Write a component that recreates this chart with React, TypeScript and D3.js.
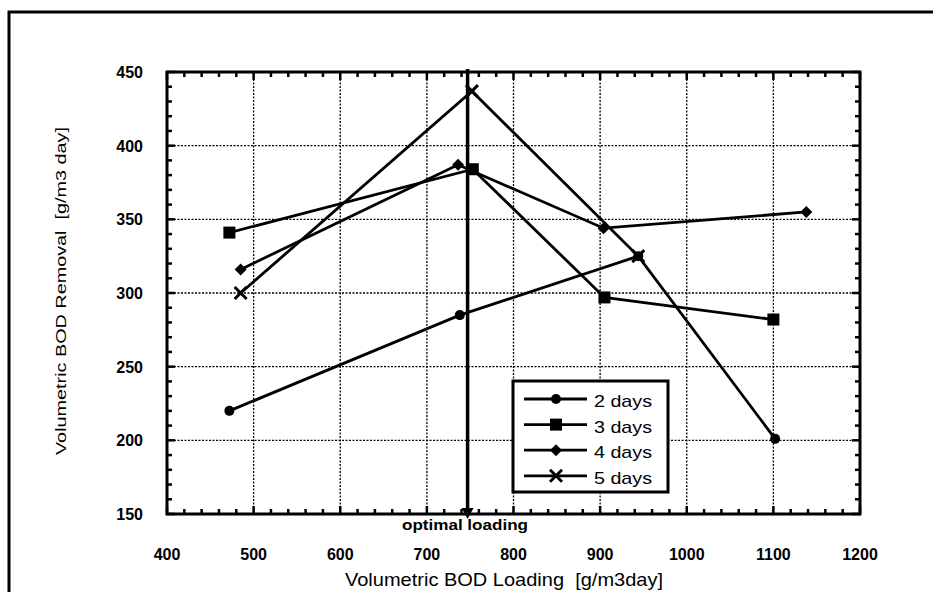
import React, { useEffect } from "react";
import * as d3 from "d3";

const xTickValues = [400, 500, 600, 700, 800, 900, 1000, 1100, 1200];
const yTickValues = [150, 200, 250, 300, 350, 400, 450];
const seriesNames = ["2 days", "3 days", "4 days", "5 days"];
const markers = ["circle", "square", "diamond", "cross"];
const days2X = [472, 738, 944, 1102];
const days2Y = [220, 285, 325, 201];
const days3X = [472, 753, 905, 1100];
const days3Y = [341, 384, 297, 282];
const days4X = [485, 736, 904, 1138];
const days4Y = [316, 387, 344, 355];
const days5X = [485, 752, 944];
const days5Y = [300, 437, 325];
const optimalLoading = 747;
const xTitle = "Volumetric BOD Loading  [g/m3day]";
const yTitle = "Volumetric BOD Removal  [g/m3 day]";
const optimalLabel = "optimal loading";

const W = 933, H = 592;
const L = 167, R = 860, T = 72, B = 514;
const FONT = "'Liberation Sans', Arial, Helvetica, sans-serif";

function Marker({ type, x, y }: { type: string; x: number; y: number }) {
  if (type === "circle") return <circle cx={x} cy={y} r={5} fill="#000" />;
  if (type === "square") return <rect x={x - 6} y={y - 6} width={12} height={12} fill="#000" />;
  if (type === "diamond")
    return <path d={`M${x},${y - 6}L${x + 6},${y}L${x},${y + 6}L${x - 6},${y}Z`} fill="#000" />;
  return (
    <path d={`M${x - 6},${y - 6}L${x + 6},${y + 6}M${x - 6},${y + 6}L${x + 6},${y - 6}`} stroke="#000" strokeWidth={3} />
  );
}

export default function App() {
  useEffect(() => {
    document.body.style.margin = "0";
    document.documentElement.style.overflow = "hidden";
    document.body.style.overflow = "hidden";
  }, []);
  const x = d3.scaleLinear().domain([400, 1200]).range([L, R]);
  const y = d3.scaleLinear().domain([150, 450]).range([B, T]);
  const series = [
    { xs: days2X, ys: days2Y },
    { xs: days3X, ys: days3Y },
    { xs: days4X, ys: days4Y },
    { xs: days5X, ys: days5Y },
  ];
  const line = d3.line<[number, number]>().x((d) => x(d[0])).y((d) => y(d[1]));
  const xMinor = d3.range(400, 1201, 20);
  const yMinor = d3.range(150, 451, 10);
  const lx = 513, ly = 381, lw = 155, lh = 111;
  const ox = x(optimalLoading);
  return (
    <svg
      width={W}
      height={H}
      style={{ position: "absolute", left: 0, top: 0, display: "block", overflow: "hidden", background: "#fff" }}
      fontFamily={FONT}
    >
      <rect x={0} y={0} width={W} height={H} fill="#fff" />
      <path d={`M9,${H}L9,12L${W},12`} fill="none" stroke="#000" strokeWidth={3} />
      {/* grid */}
      {xTickValues.slice(1, -1).map((v) => (
        <line key={"gx" + v} x1={x(v)} x2={x(v)} y1={T} y2={B} stroke="#000" strokeWidth={1.3} strokeDasharray="2,1.5" />
      ))}
      {yTickValues.slice(1, -1).map((v) => (
        <line key={"gy" + v} x1={L} x2={R} y1={y(v)} y2={y(v)} stroke="#000" strokeWidth={1.3} strokeDasharray="2,1.5" />
      ))}
      {/* minor ticks */}
      {xMinor.map((v) => {
        const len = v % 100 === 0 ? 8 : 5;
        return (
          <g key={"xm" + v}>
            <line x1={x(v)} x2={x(v)} y1={B} y2={B - len} stroke="#000" strokeWidth={2.5} />
            <line x1={x(v)} x2={x(v)} y1={T} y2={T + len} stroke="#000" strokeWidth={2.5} />
          </g>
        );
      })}
      {yMinor.map((v) => {
        const len = v % 50 === 0 ? 8 : 5;
        return (
          <g key={"ym" + v}>
            <line x1={L} x2={L + len} y1={y(v)} y2={y(v)} stroke="#000" strokeWidth={2.5} />
            <line x1={R} x2={R - len} y1={y(v)} y2={y(v)} stroke="#000" strokeWidth={2.5} />
          </g>
        );
      })}
      <rect x={L} y={T} width={R - L} height={B - T} fill="none" stroke="#000" strokeWidth={3} />
      {/* tick labels */}
      {xTickValues.map((v) => (
        <text key={"xl" + v} x={x(v)} y={560} textAnchor="middle" fontSize={16} fontWeight="bold">
          {v}
        </text>
      ))}
      {yTickValues.map((v) => (
        <text key={"yl" + v} x={143} y={y(v) + 6} textAnchor="end" fontSize={16} fontWeight="bold">
          {v}
        </text>
      ))}
      <text
        x={504}
        y={586}
        textAnchor="middle"
        fontSize={19}
        textLength={318}
        lengthAdjust="spacingAndGlyphs"
        style={{ whiteSpace: "pre" }}
      >
        {xTitle}
      </text>
      <text
        transform={`translate(66,${291}) rotate(-90)`}
        textAnchor="middle"
        fontSize={15}
        textLength={328}
        lengthAdjust="spacingAndGlyphs"
        style={{ whiteSpace: "pre" }}
      >
        {yTitle}
      </text>
      {/* optimal loading */}
      <line x1={ox} x2={ox} y1={T - 3} y2={B} stroke="#000" strokeWidth={3.5} />
      <path d={`M${ox - 6},${B - 6}L${ox + 6},${B - 6}L${ox},${B + 5}Z`} fill="#000" />
      <text x={465} y={530} textAnchor="middle" fontSize={14} fontWeight="bold" textLength={126} lengthAdjust="spacingAndGlyphs">
        {optimalLabel}
      </text>
      {/* series */}
      {series.map((s, i) => {
        const pts = s.xs.map((v, j) => [v, s.ys[j]] as [number, number]);
        return (
          <g key={"s" + i}>
            <path d={line(pts) || ""} fill="none" stroke="#000" strokeWidth={2.8} />
            {pts.map((p, j) => (
              <Marker key={j} type={markers[i]} x={x(p[0])} y={y(p[1])} />
            ))}
          </g>
        );
      })}
      {/* legend */}
      <rect x={lx} y={ly} width={lw} height={lh} fill="#fff" stroke="#000" strokeWidth={3} />
      {seriesNames.map((n, i) => {
        const yy = ly + 18 + i * 25.6;
        return (
          <g key={"lg" + i}>
            <line x1={524} x2={587} y1={yy} y2={yy} stroke="#000" strokeWidth={2.8} />
            <Marker type={markers[i]} x={556} y={yy} />
            <text x={594} y={yy + 8} fontSize={17} textLength={58} lengthAdjust="spacingAndGlyphs">
              {n}
            </text>
          </g>
        );
      })}
    </svg>
  );
}
